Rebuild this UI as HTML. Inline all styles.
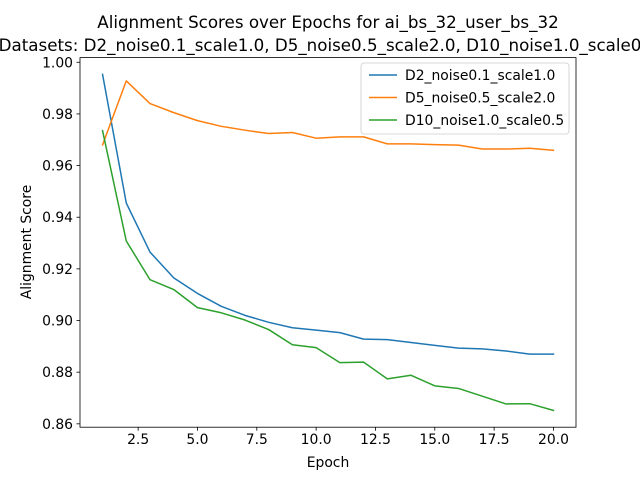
<!DOCTYPE html>
<html><head><meta charset="utf-8"><style>
body{margin:0;background:#fff}
svg text{font-family:"DejaVu Sans","Liberation Sans",sans-serif;fill:#000}
</style></head><body>
<svg id="chart" width="640" height="480" xmlns="http://www.w3.org/2000/svg">
<rect width="640" height="480" fill="#fff"/>
<text x="328" y="28" font-size="16.7" text-anchor="middle">Alignment Scores over Epochs for ai_bs_32_user_bs_32</text>
<text x="328" y="51" font-size="16.7" text-anchor="middle">Datasets: D2_noise0.1_scale1.0, D5_noise0.5_scale2.0, D10_noise1.0_scale0.5</text>
<g id="plot"></g>
<rect x="80" y="57.6" width="496" height="369.6" fill="none" stroke="#000" stroke-width="0.8"/>
<text x="328" y="467" font-size="13.9" text-anchor="middle">Epoch</text>
<text transform="translate(31,242) rotate(-90)" font-size="13.9" text-anchor="middle">Alignment Score</text>
<g id="legend"></g>
</svg>
<script>
const epochs=[1,2,3,4,5,6,7,8,9,10,11,12,13,14,15,16,17,18,19,20];
const seriesNames=["D2_noise0.1_scale1.0","D5_noise0.5_scale2.0","D10_noise1.0_scale0.5"];
const d2Values=[0.9953,0.9455,0.9265,0.9165,0.9105,0.9055,0.902,0.8993,0.8972,0.8963,0.8953,0.8928,0.8926,0.8915,0.8904,0.8893,0.889,0.8882,0.887,0.887];
const d5Values=[0.968,0.9928,0.984,0.9805,0.9774,0.9752,0.9737,0.9724,0.9728,0.9706,0.9711,0.9711,0.9684,0.9684,0.9681,0.9679,0.9664,0.9664,0.9667,0.9659];
const d10Values=[0.9735,0.9308,0.9158,0.912,0.905,0.903,0.9002,0.8965,0.8906,0.8895,0.8837,0.8839,0.8774,0.8788,0.8747,0.8737,0.8707,0.8677,0.8678,0.8652];
const xTicks=[2.5,5.0,7.5,10.0,12.5,15.0,17.5,20.0];
const yTicks=[0.86,0.88,0.90,0.92,0.94,0.96,0.98,1.00];
const colors=["#1f77b4","#ff7f0e","#2ca02c"];
const NS="http://www.w3.org/2000/svg";
const L=80,R=576,T=57.6,B=427.2;
const allVals=d2Values.concat(d5Values,d10Values);
const ymin=Math.min(...allVals),ymax=Math.max(...allVals),yr=ymax-ymin;
const y0=ymin-0.05*yr,y1=ymax+0.05*yr;
const xmin0=Math.min(...epochs),xmax0=Math.max(...epochs),xr=xmax0-xmin0;
const x0=xmin0-0.05*xr,x1=xmax0+0.05*xr;
function sx(v){return L+(v-x0)/(x1-x0)*(R-L);}
function sy(v){return B-(v-y0)/(y1-y0)*(B-T);}
const plot=document.getElementById('plot');
function mk(tag,attrs,parent){const e=document.createElementNS(NS,tag);for(const k in attrs)e.setAttribute(k,attrs[k]);(parent||plot).appendChild(e);return e;}
xTicks.forEach(t=>{
 const x=sx(t);
 const l=mk('line',{x1:x,x2:x,y1:B,y2:B+3.5,stroke:'#000','stroke-width':0.8});
 
 
 const tx=mk('text',{x:x,y:B+17,'font-size':13.9,'text-anchor':'middle'});tx.textContent=t.toFixed(1);
 
 
});
yTicks.forEach(t=>{
 const y=sy(t);
 const l=mk('line',{x1:L-3.5,x2:L,y1:y,y2:y,stroke:'#000','stroke-width':0.8});
 
 
 const tx=mk('text',{x:L-7,y:y+5,'font-size':13.9,'text-anchor':'end'});tx.textContent=t.toFixed(2);
 
 
});
[d2Values,d5Values,d10Values].forEach((vals,i)=>{
 const pts=vals.map((v,j)=>sx(epochs[j]).toFixed(2)+','+sy(v).toFixed(2)).join(' ');
 const p=mk('polyline',{points:pts,fill:'none',stroke:colors[i],'stroke-width':1.5,'stroke-linejoin':'round','stroke-linecap':'square'});
 
 
});
const lg=document.getElementById('legend');
mk('rect',{x:361,y:63,width:208,height:71,rx:3,fill:'#fff','fill-opacity':0.8,stroke:'#ccc','stroke-width':0.8},lg);
seriesNames.forEach((n,i)=>{
 const y=75+i*22.5;
 const l=mk('line',{x1:369,x2:397,y1:y,y2:y,stroke:colors[i],'stroke-width':1.5},lg);
 
 
 const t=mk('text',{x:405,y:y+5,'font-size':13.9},lg);t.textContent=n;
 
 
});
</script>
</body></html>
